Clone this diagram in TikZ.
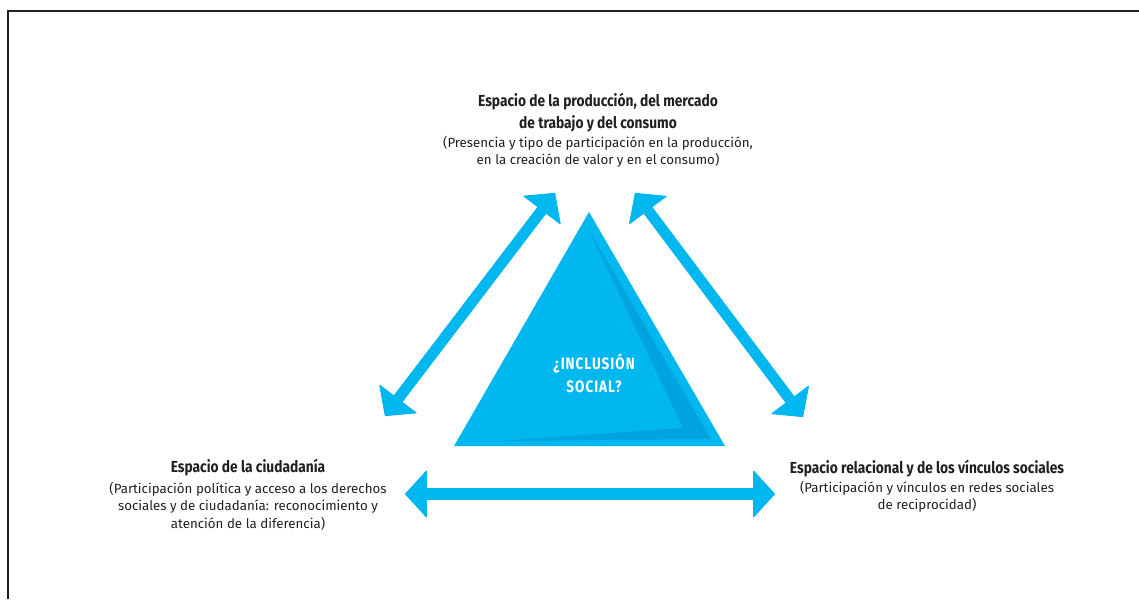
\documentclass[tikz,border=0pt]{standalone}
\usepackage{fontspec}
\setmainfont{Fira Sans}
\newfontfamily\titlefont[FakeStretch=0.86]{Fira Sans}
\newfontfamily\capsfont[FakeStretch=0.82,LetterSpace=6]{Fira Sans}
\usetikzlibrary{arrows.meta}

\definecolor{ink}{HTML}{231F20}
\definecolor{cyanA}{HTML}{00B7F0}
\definecolor{cyanB}{HTML}{00A3DD}

\begin{document}
\begin{tikzpicture}[x=1pt,y=-1pt,
    title/.style={font=\titlefont\bfseries\fontsize{16}{22}\selectfont,text=ink,align=center,inner sep=0pt},
    desc/.style={font=\fontsize{13.3}{17.5}\selectfont,text=ink,align=center,inner sep=0pt},
    link/.style={draw=cyanA,line width=11pt,
      {Triangle[length=22pt,width=48pt,line width=1pt,round]}-{Triangle[length=22pt,width=48pt,line width=1pt,round]}}]
      \useasboundingbox (0,0) rectangle (1139,599);
      \draw[ink,line width=2pt] (8,599) -- (8,11) -- (1139,11);

      % triangle
      \fill[cyanA] (454,446) -- (725,446) -- (589,212) -- cycle;
      \fill[cyanB] (589,230) -- (711,439) -- (498,441) -- (683,428) -- cycle;
      \node[font=\capsfont\bfseries\fontsize{16.5}{23}\selectfont,text=white,align=center] (incl) at (594,373) {¿INCLUSIÓN\\SOCIAL?};

      % texts
      \node[title] (prodT) at (598,113) {Espacio de la producción, del mercado\\de trabajo y del consumo};
      \node[desc] (prodD) at (598,152) {(Presencia y tipo de participación en la producción,\\en la creación de valor y en el consumo)};
      \node[title] (ciudT) at (248,468) {Espacio de la ciudadanía};
      \node[desc] (ciudD) at (248,506) {(Participación política y acceso a los derechos\\sociales y de ciudadanía: reconocimiento y\\atención de la diferencia)};
      \node[title] (relT) at (927,469) {Espacio relacional y de los vínculos sociales};
      \node[desc] (relD) at (927,497) {(Participación y vínculos en redes sociales\\de reciprocidad)};

      % arrows
      \coordinate (prodL) at (555,193);
      \coordinate (ciudU) at (385,416);
      \coordinate (prodR) at (635,193);
      \coordinate (relU) at (803,417);
      \coordinate (ciudR) at (405,494);
      \coordinate (relL) at (775,494);
      \draw[link] (ciudU) -- (prodL);
      \draw[link] (prodR) -- (relU);
      \draw[link,line width=12pt] (ciudR) -- (relL);
   \end{tikzpicture}
\end{document}
